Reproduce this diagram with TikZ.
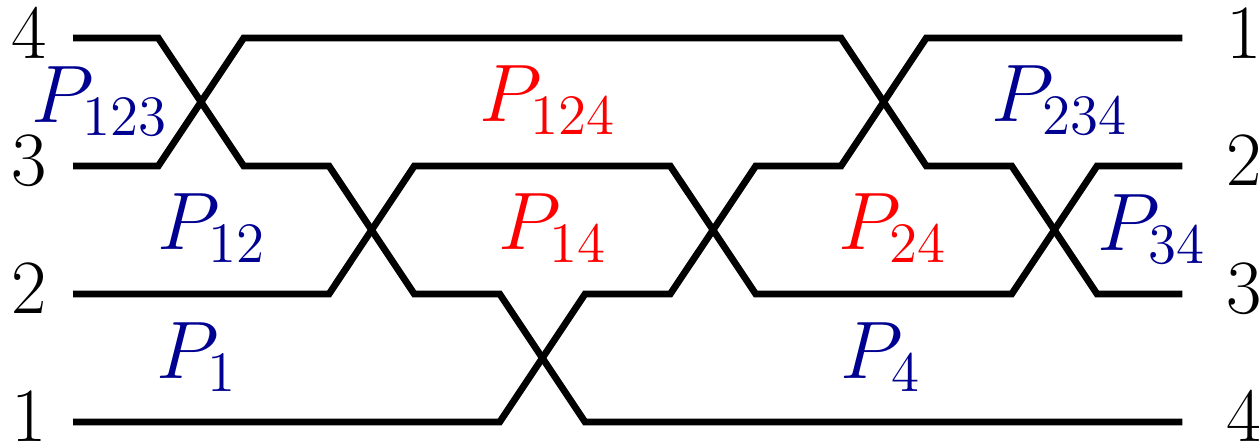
\documentclass[tikz,border=0pt]{standalone}
\usepackage{fix-cm}
\definecolor{pblue}{RGB}{0,0,145}
\definecolor{pred}{RGB}{255,0,0}
\begin{document}
\begin{tikzpicture}[x=0.25pt,y=-0.25pt,
  wire/.style={line width=1.7pt,black},
  num/.style={inner sep=0pt,anchor=base,font=\fontsize{19.2}{23}\selectfont},
  plab/.style={inner sep=0pt,anchor=base,font=\fontsize{20.4}{24}\selectfont},
  pb/.style={plab,text=pblue},
  pr/.style={plab,text=pred}]
\useasboundingbox (0,0) rectangle (1259,446);
% levels: L4=38, L3=166, L2=294, L1=422
% strand from left 4
\draw[wire] (73,38) -- (158.3,38) -- (243.7,166) -- (329,166) -- (414.3,294) -- (499.7,294) -- (585,422) -- (1182.3,422);
% strand from left 3
\draw[wire] (73,166) -- (158.3,166) -- (243.7,38) -- (841,38) -- (926.3,166) -- (1011.7,166) -- (1097,294) -- (1182.3,294);
% strand from left 2
\draw[wire] (73,294) -- (329,294) -- (414.3,166) -- (670.3,166) -- (755.7,294) -- (1011.7,294) -- (1097,166) -- (1182.3,166);
% strand from left 1
\draw[wire] (73,422) -- (499.7,422) -- (585,294) -- (670.3,294) -- (755.7,166) -- (841,166) -- (926.3,38) -- (1182.3,38);
% left numbers
\node[num] (l4) at (29,59) {4};
\node[num] (l3) at (29,186) {3};
\node[num] (l2) at (29,314) {2};
\node[num] (l1) at (29,441) {1};
% right numbers
\node[num] (r1) at (1244,59) {1};
\node[num] (r2) at (1244,186) {2};
\node[num] (r3) at (1244,314) {3};
\node[num] (r4) at (1244,441) {4};
% region labels
\node[pb] (p123) at (100,123) {$P_{123}$};
\node[pr] (p124) at (548,122) {$P_{124}$};
\node[pb] (p234) at (1060,122) {$P_{234}$};
\node[pb] (p12) at (212,250) {$P_{12}$};
\node[pr] (p14) at (553,250) {$P_{14}$};
\node[pr] (p24) at (893,250) {$P_{24}$};
\node[pb] (p34) at (1152,251) {$P_{34}$};
\node[pb] (p1) at (197,379) {$P_{1}$};
\node[pb] (p4) at (881,379) {$P_{4}$};
\end{tikzpicture}
\end{document}
